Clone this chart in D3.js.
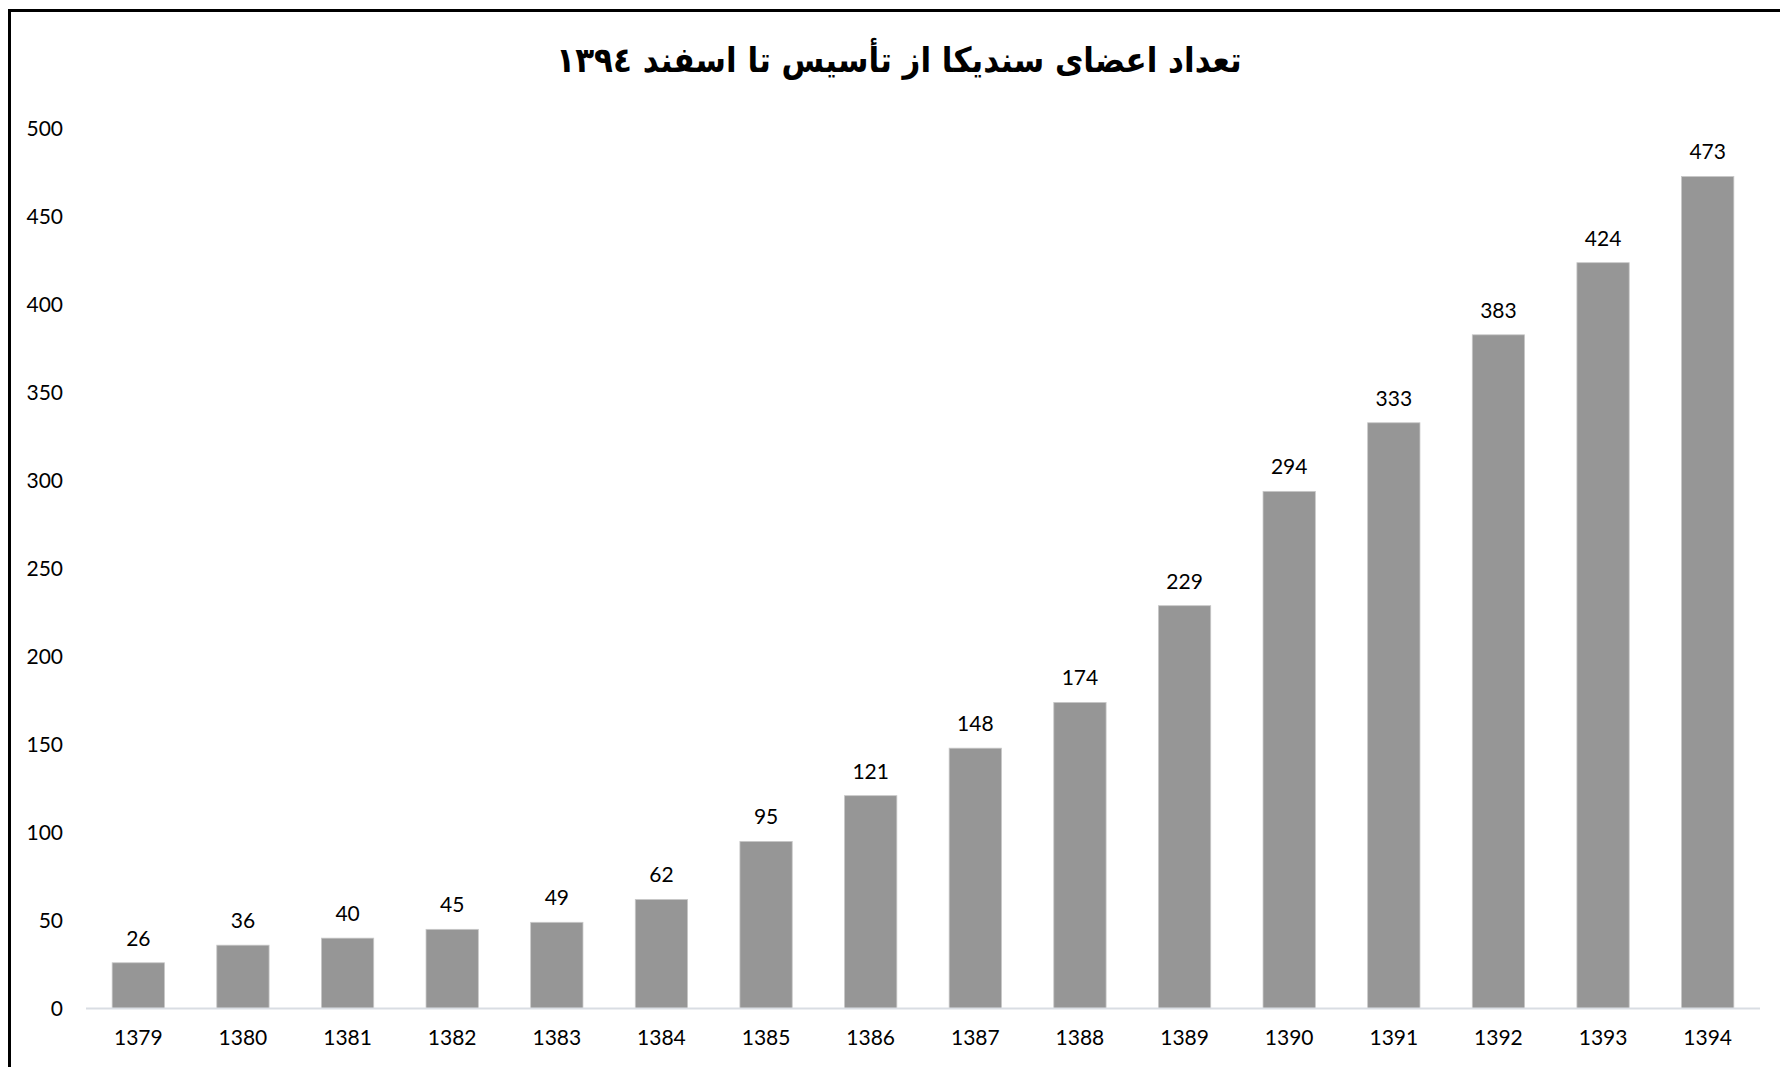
<!DOCTYPE html>
<html>
<head>
<meta charset="utf-8">
<script src="https://cdn.jsdelivr.net/npm/d3@7"></script>
<style>
  body { margin: 0; background: #fff; }
  svg { display: block; }
</style>
</head>
<body>
<div id="root"></div>
<script>
// chart data
const years = ["1379", "1380", "1381", "1382", "1383", "1384", "1385", "1386",
               "1387", "1388", "1389", "1390", "1391", "1392", "1393", "1394"];
const members = [26, 36, 40, 45, 49, 62, 95, 121, 148, 174, 229, 294, 333, 383, 424, 473];
const yTicks = [0, 50, 100, 150, 200, 250, 300, 350, 400, 450, 500];
const titleText = "تعداد اعضای سندیکا از تأسیس تا اسفند ١٣٩٤";

const width = 1780;
const height = 1067;
const plotLeft = 86;
const plotRight = 1760;
const plotBottom = 1008.5;
const plotTop = 129;
const font = "Lato, 'Open Sans', sans-serif";

const svg = d3.select("#root")
	.append("svg")
		.attr("width", width)
		.attr("height", height);

// outer frame (only top and left show in the picture)
svg.append("rect")
	.attr("x", 9.5)
	.attr("y", 10.5)
	.attr("width", width + 20)
	.attr("height", height + 20)
	.style("fill", "none")
	.style("stroke", "#000")
	.style("stroke-width", 3);

// scales
const x = d3.scaleBand()
	.domain(years)
	.range([plotLeft, plotRight])
	.paddingInner(0.5)
	.paddingOuter(0.25);

const y = d3.scaleLinear()
	.domain([0, 500])
	.range([plotBottom, plotTop]);

// title
svg.append("text")
	.text(titleText)
	.attr("x", 899)
	.attr("y", 72)
	.attr("direction", "rtl")
	.style("text-anchor", "middle")
	.style("font-family", "'DejaVu Sans', sans-serif")
	.style("font-weight", "bold")
	.style("font-size", "31px")
	.attr("transform", "translate(899,72) scale(1,1.12) translate(-899,-72)")
	.style("fill", "#000");

// y axis labels
const yAxis = d3.axisLeft(y).tickValues(yTicks).tickSize(0).tickPadding(0);
svg.append("g")
	.attr("transform", "translate(63,0)")
	.call(yAxis)
	.call(g => g.select(".domain").remove())
	.selectAll("text")
		.style("font-family", font)
		.style("font-size", "21px")
		.style("fill", "#000");

// bars
svg.selectAll(".bar")
	.data(members).enter()
	.append("rect")
		.attr("class", "bar")
		.attr("x", (d, i) => x(years[i]))
		.attr("y", d => y(d))
		.attr("width", x.bandwidth())
		.attr("height", d => plotBottom - y(d))
		.style("fill", "#969696")
		.style("stroke", "#c8c8c8")
		.style("stroke-width", 0.8);

// baseline
svg.append("line")
	.attr("x1", plotLeft)
	.attr("x2", plotRight)
	.attr("y1", plotBottom)
	.attr("y2", plotBottom)
	.style("stroke", "#d9dde3")
	.style("stroke-width", 2);

// x axis labels
const xAxis = d3.axisBottom(x).tickSize(0).tickPadding(0);
svg.append("g")
	.attr("transform", `translate(0,${plotBottom + 22})`)
	.call(xAxis)
	.call(g => g.select(".domain").remove())
	.selectAll("text")
		.style("font-family", font)
		.style("font-size", "21px")
		.style("fill", "#000");

// value labels
svg.selectAll(".value")
	.data(members).enter()
	.append("text")
		.attr("class", "value")
		.text(d => d)
		.attr("x", (d, i) => x(years[i]) + x.bandwidth() / 2)
		.attr("y", d => y(d) - 17)
		.style("text-anchor", "middle")
		.style("font-family", font)
		.style("font-size", "21px")
		.style("fill", "#000");
</script>
</body>
</html>
